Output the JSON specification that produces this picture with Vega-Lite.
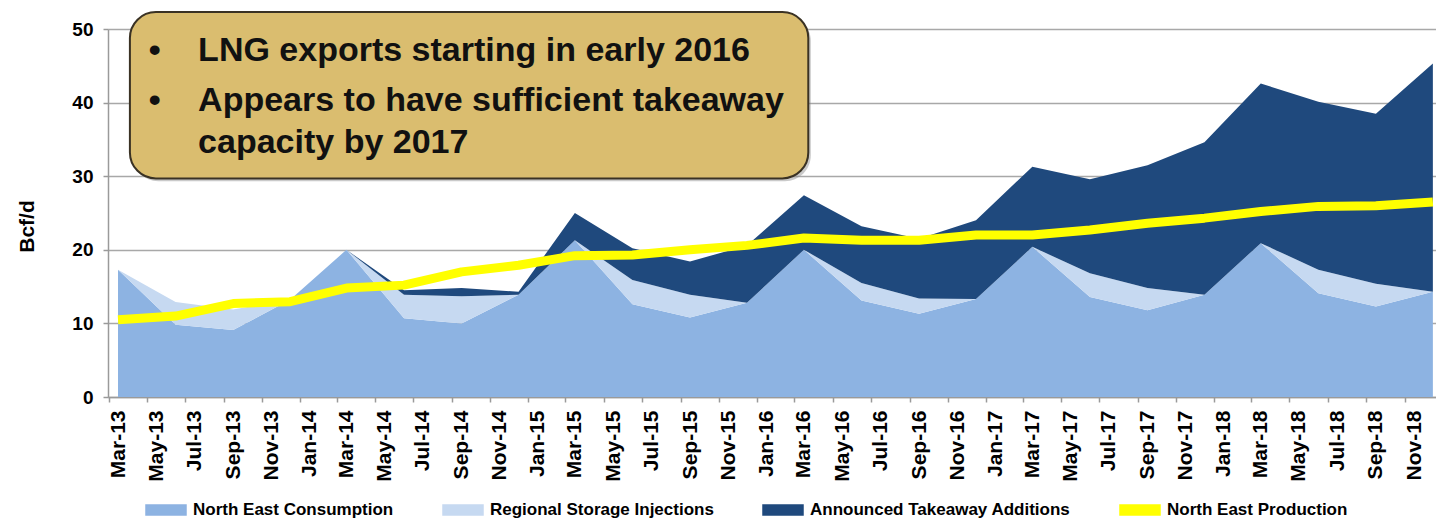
{
  "$schema": "https://vega.github.io/schema/vega-lite/v6.json",
  "width": 1328,
  "height": 368,
  "autosize": {"type": "none"},
  "padding": {"left": 108, "top": 29, "right": 0, "bottom": 122},
  "background": "white",
  "config": {"font": "Liberation Sans", "view": {"stroke": null}},
  "datasets": {
    "flows": [
      {"date": "2013-03-01", "consumption": 17.3, "storage": 0, "takeaway": 0, "production": 10.5},
      {"date": "2013-06-01", "consumption": 9.8, "storage": 3.1, "takeaway": 0, "production": 11.0},
      {"date": "2013-09-01", "consumption": 9.1, "storage": 2.8, "takeaway": 0, "production": 12.7},
      {"date": "2013-12-01", "consumption": 13.2, "storage": 0, "takeaway": 0, "production": 12.95},
      {"date": "2014-03-01", "consumption": 20.0, "storage": 0, "takeaway": 0, "production": 14.8},
      {"date": "2014-06-01", "consumption": 10.7, "storage": 3.2, "takeaway": 0.6, "production": 15.2},
      {"date": "2014-09-01", "consumption": 10.0, "storage": 3.7, "takeaway": 1.1, "production": 17.0},
      {"date": "2014-12-01", "consumption": 13.9, "storage": 0, "takeaway": 0.4, "production": 17.9},
      {"date": "2015-03-01", "consumption": 21.3, "storage": 0, "takeaway": 3.7, "production": 19.2},
      {"date": "2015-06-01", "consumption": 12.6, "storage": 3.3, "takeaway": 4.3, "production": 19.3},
      {"date": "2015-09-01", "consumption": 10.8, "storage": 3.1, "takeaway": 4.5, "production": 20.0},
      {"date": "2015-12-01", "consumption": 12.8, "storage": 0, "takeaway": 7.8, "production": 20.6},
      {"date": "2016-03-01", "consumption": 20.0, "storage": 0, "takeaway": 7.4, "production": 21.6},
      {"date": "2016-06-01", "consumption": 13.1, "storage": 2.4, "takeaway": 7.7, "production": 21.3},
      {"date": "2016-09-01", "consumption": 11.3, "storage": 2.1, "takeaway": 8.1, "production": 21.3},
      {"date": "2016-12-01", "consumption": 13.3, "storage": 0, "takeaway": 10.7, "production": 22.0},
      {"date": "2017-03-01", "consumption": 20.4, "storage": 0, "takeaway": 10.9, "production": 22.0},
      {"date": "2017-06-01", "consumption": 13.6, "storage": 3.2, "takeaway": 12.8, "production": 22.7},
      {"date": "2017-09-01", "consumption": 11.8, "storage": 3.0, "takeaway": 16.7, "production": 23.6},
      {"date": "2017-12-01", "consumption": 13.9, "storage": 0, "takeaway": 20.7, "production": 24.3},
      {"date": "2018-03-01", "consumption": 20.9, "storage": 0, "takeaway": 21.7, "production": 25.2},
      {"date": "2018-06-01", "consumption": 14.1, "storage": 3.2, "takeaway": 22.8, "production": 25.9},
      {"date": "2018-09-01", "consumption": 12.3, "storage": 3.1, "takeaway": 23.1, "production": 26.0},
      {"date": "2018-12-01", "consumption": 14.3, "storage": 0, "takeaway": 31.0, "production": 26.5}
    ],
    "box": [
      {"start": "2013-03-20", "end": "2016-03-08", "low": 29.7, "high": 52.3}
    ],
    "shadow": [
      {"start": "2013-03-24", "end": "2016-03-12", "low": 29.3, "high": 51.9}
    ],
    "notes": [
      {"date": "2013-04-19", "v": 45.65, "label": "•"},
      {"date": "2013-07-07", "v": 45.65, "label": "LNG exports starting in early 2016"},
      {"date": "2013-04-19", "v": 38.86, "label": "•"},
      {"date": "2013-07-07", "v": 38.86, "label": "Appears to have sufficient takeaway"},
      {"date": "2013-07-07", "v": 33.15, "label": "capacity by 2017"}
    ]
  },
  "layer": [
    {
      "data": {"name": "flows"},
      "transform": [
        {"fold": ["consumption", "storage", "takeaway", "production"], "as": ["series", "value"]},
        {"filter": "datum.series !== 'production'"}
      ],
      "mark": {"type": "area", "interpolate": "linear"},
      "encoding": {
        "x": {
          "field": "date", "type": "temporal",
          "scale": {"type": "utc", "domain": [{"year": 2013, "month": 2, "date": 13, "utc": true}, {"year": 2018, "month": 12, "date": 6, "utc": true}]},
          "axis": {
            "title": null, "grid": false,
            "tickCount": {"interval": "month", "step": 2},
            "labelExpr": "utcFormat(datum.value, '%b-%y')",
            "labelAngle": -90, "labelFontSize": 21, "labelFontWeight": "bold", "labelColor": "#000",
            "labelPadding": 8, "labelOverlap": false, "labelBound": false,
            "tickOffset": -9.5, "labelOffset": 9.5,
            "tickSize": 5, "tickColor": "#9a9a9a", "tickWidth": 1.5,
            "domainColor": "#9a9a9a", "domainWidth": 1.5
          }
        },
        "y": {
          "field": "value", "type": "quantitative", "stack": "zero",
          "scale": {"domain": [0, 50], "nice": false},
          "axis": {
            "values": [0, 10, 20, 30, 40, 50],
            "title": "Bcf/d", "titleFontSize": 21, "titleFontWeight": "bold", "titleColor": "#000",
            "titlePadding": 34, "titleY": 197,
            "labelFontSize": 19, "labelFontWeight": "bold", "labelColor": "#000", "labelPadding": 10,
            "tickSize": 5, "tickColor": "#9a9a9a", "tickWidth": 1.5,
            "domainColor": "#9a9a9a", "domainWidth": 1.5,
            "grid": true, "gridColor": "#a8a8a8", "gridWidth": 1.5
          }
        },
        "color": {
          "field": "series", "type": "nominal",
          "scale": {"domain": ["consumption", "storage", "takeaway", "production"], "range": ["#8db3e2", "#c6d9f1", "#1f497d", "#ffff00"]},
          "legend": {
            "orient": "none", "legendX": 37, "legendY": 460, "direction": "horizontal", "columns": 4,
            "title": null, "padding": 0, "columnPadding": 46, "labelLimit": 400,
            "symbolType": "M-1,-0.25H1V0.25H-1Z", "symbolSize": 1600,
            "labelFontSize": 17, "labelFontWeight": "bold", "labelColor": "#000", "labelOffset": 6,
            "labelExpr": "datum.value === 'consumption' ? 'North East Consumption' : datum.value === 'storage' ? 'Regional Storage Injections' : datum.value === 'takeaway' ? 'Announced Takeaway Additions' : 'North East Production'",
            "encode": {
              "symbols": {
                "update": {
                  "fill": {"scale": "color", "field": "value"},
                  "stroke": [{"test": "datum.value === 'production'", "value": "#000"}, {"scale": "color", "field": "value"}],
                  "strokeWidth": {"value": 1.5},
                  "opacity": {"value": 1}
                }
              }
            }
          }
        },
        "order": {"field": "series", "sort": "ascending"}
      }
    },
    {
      "data": {"name": "flows"},
      "transform": [
        {"fold": ["consumption", "storage", "takeaway", "production"], "as": ["series", "value"]},
        {"filter": "datum.series === 'production'"}
      ],
      "mark": {"type": "line", "strokeWidth": 9, "strokeJoin": "round"},
      "encoding": {
        "x": {"field": "date", "type": "temporal"},
        "y": {"field": "value", "type": "quantitative"},
        "color": {"field": "series", "type": "nominal"}
      }
    },
    {
      "data": {"name": "shadow"},
      "mark": {"type": "rect", "fill": "#8a8a8a", "opacity": 0.45, "cornerRadius": 26},
      "encoding": {
        "x": {"field": "start", "type": "temporal"},
        "x2": {"field": "end"},
        "y": {"field": "low", "type": "quantitative"},
        "y2": {"field": "high"}
      }
    },
    {
      "data": {"name": "box"},
      "mark": {"type": "rect", "fill": "#dabd6f", "stroke": "#3a3224", "strokeWidth": 2, "cornerRadius": 26},
      "encoding": {
        "x": {"field": "start", "type": "temporal"},
        "x2": {"field": "end"},
        "y": {"field": "low", "type": "quantitative"},
        "y2": {"field": "high"}
      }
    },
    {
      "data": {"name": "notes"},
      "mark": {"type": "text", "align": "left", "baseline": "alphabetic", "fontSize": 34, "fontWeight": "bold", "color": "#111"},
      "encoding": {
        "x": {"field": "date", "type": "temporal"},
        "y": {"field": "v", "type": "quantitative"},
        "text": {"field": "label"}
      }
    }
  ]
}
